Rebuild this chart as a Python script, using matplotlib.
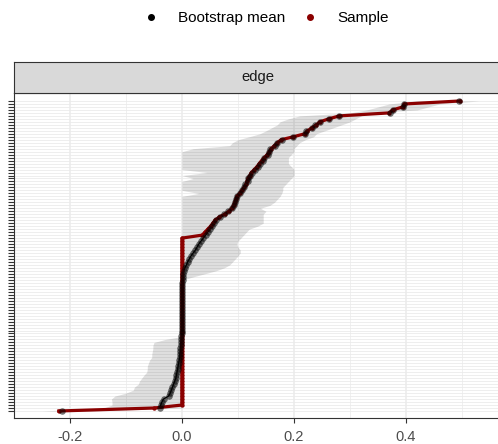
import numpy as np
import matplotlib.pyplot as plt
from matplotlib.lines import Line2D

plt.rcParams['font.family'] = ['Liberation Sans', 'DejaVu Sans']
plt.rcParams['axes.unicode_minus'] = False

# === Data (edges sorted by sample weight, bottom -> top) ===
sample = [
    -0.220, -0.050, 0.000, 0.000, 0.000, 0.000, 0.000, 0.000, 0.000, 0.000,
    0.000, 0.000, 0.000, 0.000, 0.000, 0.000, 0.000, 0.000, 0.000, 0.000,
    0.000, 0.000, 0.000, 0.000, 0.000, 0.000, 0.000, 0.000, 0.000, 0.000,
    0.000, 0.000, 0.000, 0.000, 0.000, 0.000, 0.000, 0.000, 0.000, 0.000,
    0.000, 0.000, 0.000, 0.000, 0.000, 0.000, 0.000, 0.000, 0.000, 0.000,
    0.000, 0.000, 0.000, 0.000, 0.000, 0.000, 0.000, 0.000, 0.000, 0.036,
    0.041, 0.046, 0.051, 0.055, 0.059, 0.066, 0.076, 0.084, 0.089, 0.092,
    0.094, 0.096, 0.098, 0.103, 0.107, 0.111, 0.114, 0.116, 0.118, 0.121,
    0.124, 0.129, 0.134, 0.138, 0.142, 0.147, 0.152, 0.156, 0.159, 0.165,
    0.170, 0.177, 0.199, 0.219, 0.224, 0.232, 0.240, 0.246, 0.262, 0.281,
    0.370, 0.376, 0.394, 0.397, 0.496,
]

boot_mean = [
    -0.215, -0.040, -0.038, -0.036, -0.033, -0.024, -0.021, -0.019, -0.017, -0.015,
    -0.013, -0.011, -0.010, -0.009, -0.008, -0.007, -0.006, -0.005, -0.004, -0.004,
    -0.003, -0.003, -0.002, -0.002, -0.001, -0.001, 0.000, 0.000, 0.000, 0.000,
    0.000, 0.000, 0.000, 0.000, 0.000, 0.000, 0.000, 0.000, 0.000, 0.000,
    0.000, 0.000, 0.000, 0.000, 0.001, 0.001, 0.002, 0.003, 0.005, 0.008,
    0.010, 0.013, 0.016, 0.020, 0.024, 0.027, 0.030, 0.034, 0.038, 0.042,
    0.046, 0.050, 0.054, 0.058, 0.061, 0.068, 0.075, 0.083, 0.090, 0.093,
    0.095, 0.096, 0.099, 0.104, 0.108, 0.111, 0.113, 0.117, 0.118, 0.122,
    0.125, 0.131, 0.136, 0.139, 0.144, 0.147, 0.153, 0.155, 0.158, 0.166,
    0.169, 0.178, 0.198, 0.219, 0.222, 0.233, 0.238, 0.246, 0.262, 0.280,
    0.372, 0.376, 0.395, 0.397, 0.495,
]

ci_lower = [
    -0.250, -0.140, -0.125, -0.125, -0.126, -0.120, -0.100, -0.087, -0.085, -0.078,
    -0.076, -0.072, -0.068, -0.063, -0.062, -0.062, -0.060, -0.058, -0.054, -0.054,
    -0.053, -0.052, -0.052, -0.050, -0.030, 0.000, 0.000, 0.000, 0.000, 0.000,
    0.000, 0.000, 0.000, 0.000, 0.000, 0.000, 0.000, 0.000, 0.000, 0.000,
    0.000, 0.000, 0.000, 0.000, 0.000, 0.000, 0.000, 0.000, 0.000, 0.000,
    0.000, 0.000, 0.000, 0.000, 0.000, 0.000, 0.000, 0.000, 0.000, 0.000,
    0.000, 0.000, 0.000, 0.000, 0.000, 0.000, 0.000, 0.000, 0.000, 0.000,
    0.000, 0.000, 0.000, 0.030, 0.000, 0.000, 0.000, 0.000, 0.020, 0.000,
    0.045, 0.000, 0.000, 0.000, 0.000, 0.000, 0.000, 0.000, 0.020, 0.085,
    0.090, 0.100, 0.120, 0.139, 0.150, 0.160, 0.170, 0.175, 0.190, 0.210,
    0.300, 0.330, 0.350, 0.370, 0.420,
]

ci_upper = [
    -0.170, 0.000, 0.000, 0.000, 0.000, 0.000, 0.000, 0.000, 0.000, 0.000,
    0.000, 0.000, 0.000, 0.000, 0.000, 0.000, 0.000, 0.000, 0.000, 0.000,
    0.000, 0.000, 0.000, 0.000, 0.000, 0.000, 0.000, 0.000, 0.000, 0.000,
    0.000, 0.000, 0.000, 0.000, 0.000, 0.000, 0.000, 0.000, 0.000, 0.000,
    0.000, 0.000, 0.000, 0.000, 0.002, 0.020, 0.040, 0.060, 0.075, 0.085,
    0.090, 0.095, 0.100, 0.104, 0.104, 0.100, 0.098, 0.100, 0.105, 0.110,
    0.115, 0.120, 0.135, 0.145, 0.145, 0.145, 0.145, 0.150, 0.140, 0.157,
    0.165, 0.170, 0.175, 0.178, 0.180, 0.180, 0.185, 0.190, 0.195, 0.200,
    0.200, 0.200, 0.195, 0.190, 0.190, 0.190, 0.195, 0.200, 0.200, 0.205,
    0.210, 0.220, 0.235, 0.240, 0.255, 0.270, 0.285, 0.300, 0.310, 0.320,
    0.330, 0.420, 0.440, 0.460, 0.530,
]

x_ticks = [-0.2, 0.0, 0.2, 0.4]
x_tick_labels = ["-0.2", "0.0", "0.2", "0.4"]
x_minor = [-0.3, -0.1, 0.1, 0.3, 0.5]
panel_label = "edge"

SAMPLE_COL = "#8B0000"

# === Figure ===
W, H = 498, 444
fig = plt.figure(figsize=(W / 100, H / 100), dpi=100)

# panel: left 14px, top 93px, bottom 418px, runs past the right edge
ax = fig.add_axes([14 / W, (H - 418) / H, 488 / W, 325 / H])
strip = fig.add_axes([14 / W, (H - 93) / H, 488 / W, 31 / H])

ids = np.arange(1, len(sample) + 1)

# ribbon, then mean line under the sample line, dots on top
ax.fill_betweenx(ids, ci_lower, ci_upper, color="black", alpha=0.13, lw=0, zorder=2)
ax.plot(boot_mean, ids, color="black", lw=0.9, zorder=3)
ax.plot(sample, ids, color=SAMPLE_COL, lw=2.3, zorder=4)
ax.scatter(sample, ids, s=10, color=SAMPLE_COL, lw=0, zorder=4)
ax.scatter(boot_mean, ids, s=22, color="black", alpha=0.55, lw=0, zorder=5)

ax.set_xlim(-0.3, 0.5714)
ax.set_ylim(1 - 2.35, len(sample) + 2.68)

ax.set_xticks(x_ticks)
ax.set_xticklabels(x_tick_labels)
ax.set_xticks(x_minor, minor=True)
ax.set_yticks(ids)
ax.set_yticklabels([])

ax.grid(axis="y", color="#EBEBEB", lw=0.6, zorder=0)
ax.grid(axis="x", which="major", color="#EBEBEB", lw=1.1, zorder=0)
ax.grid(axis="x", which="minor", color="#EEEEEE", lw=0.6, zorder=0)
ax.set_axisbelow(True)

ax.tick_params(axis="x", which="major", length=3.8, width=0.8, color="#333333",
               labelsize=10.5, labelcolor="#4D4D4D", pad=5)
ax.tick_params(axis="x", which="minor", length=0)
ax.tick_params(axis="y", length=4.2, width=0.8, color="#333333")
for sp in ax.spines.values():
    sp.set_color("#333333")
    sp.set_linewidth(0.8)

# facet strip
strip.set_facecolor("#D9D9D9")
strip.set_xticks([])
strip.set_yticks([])
for sp in strip.spines.values():
    sp.set_color("#333333")
    sp.set_linewidth(0.8)
strip.text(0.5, 0.5, panel_label, transform=strip.transAxes, ha="center", va="center",
           fontsize=10.7, color="#1A1A1A")

# legend at top
handles = [
    Line2D([], [], ls="none", marker="o", ms=4, color="black"),
    Line2D([], [], ls="none", marker="o", ms=4, color=SAMPLE_COL),
]
fig.legend(handles, ["Bootstrap mean", "Sample"], loc="center", ncol=2,
           bbox_to_anchor=(266 / W, 1 - 18 / H), frameon=False, fontsize=11,
           handlelength=1.0, handletextpad=1.26, columnspacing=1.14)

fig.savefig("out.png", dpi=100)
